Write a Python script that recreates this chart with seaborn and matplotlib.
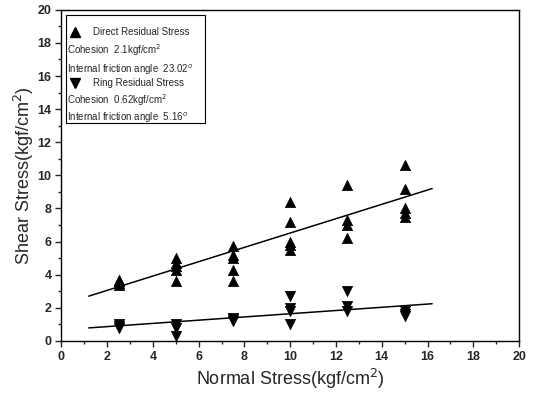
import numpy as np
import pandas as pd
import matplotlib
matplotlib.use("Agg")
import matplotlib.pyplot as plt
import seaborn as sns
from matplotlib.patches import Rectangle
from matplotlib.ticker import MultipleLocator

# Direct residual stress (up triangles)
direct_x = [2.5, 2.5, 2.5, 2.5,
            5, 5, 5, 5, 5,
            7.5, 7.5, 7.5, 7.5, 7.5,
            10, 10, 10, 10, 10,
            12.5, 12.5, 12.5, 12.5,
            15, 15, 15, 15, 15]
direct_y = [3.7, 3.6, 3.5, 3.4,
            5.0, 4.7, 4.5, 4.3, 3.6,
            5.7, 5.2, 5.0, 4.3, 3.6,
            8.4, 7.2, 6.0, 5.8, 5.5,
            9.4, 7.3, 7.0, 6.2,
            10.6, 9.2, 8.0, 7.7, 7.5]

# Ring residual stress (down triangles)
ring_x = [2.5, 2.5, 2.5,
          5, 5, 5,
          7.5, 7.5, 7.5,
          10, 10, 10, 10,
          12.5, 12.5, 12.5,
          15, 15, 15]
ring_y = [1.0, 0.9, 0.8,
          1.0, 0.8, 0.3,
          1.4, 1.3, 1.2,
          2.7, 2.0, 1.8, 1.0,
          3.0, 2.1, 1.8,
          1.8, 1.6, 1.5]

# fitted lines (end points)
fit_x = [1.2, 16.2]
direct_fit = [2.7, 9.2]
ring_fit = [0.78, 2.24]

legend_lines = ["Direct Residual Stress",
                "Cohesion  2.1kgf/cm$^2$",
                "Internal friction angle  23.02$^o$",
                "Ring Residual Stress",
                "Cohesion  0.62kgf/cm$^2$",
                "Internal friction angle  5.16$^o$"]

sns.set_style("ticks")
plt.rcParams['font.family'] = ['Liberation Sans', 'DejaVu Sans']

fig, ax = plt.subplots(figsize=(5.33, 3.94), dpi=100)
fig.subplots_adjust(left=0.115, right=0.974, top=0.975, bottom=0.135)

d1 = pd.DataFrame({"x": direct_x, "y": direct_y})
d2 = pd.DataFrame({"x": ring_x, "y": ring_y})
sns.scatterplot(data=d1, x="x", y="y", marker="^", s=55, color="black",
                edgecolor="black", linewidth=0.5, ax=ax, zorder=3)
sns.scatterplot(data=d2, x="x", y="y", marker="v", s=55, color="black",
                edgecolor="black", linewidth=0.5, ax=ax, zorder=3)
ax.plot(fit_x, direct_fit, color="black", lw=1.1)
ax.plot(fit_x, ring_fit, color="black", lw=1.1)

ax.set_xlim(0, 20)
ax.set_ylim(0, 20)
ax.xaxis.set_major_locator(MultipleLocator(2))
ax.yaxis.set_major_locator(MultipleLocator(2))
ax.xaxis.set_minor_locator(MultipleLocator(1))
ax.yaxis.set_minor_locator(MultipleLocator(1))
ax.tick_params(which="major", length=4, width=1, labelsize=9, pad=3)
ax.tick_params(which="minor", length=2.5, width=1)
for lab in ax.get_xticklabels() + ax.get_yticklabels():
    lab.set_fontweight("bold")
for sp in ax.spines.values():
    sp.set_linewidth(1.0)
    sp.set_color("black")

ax.set_xlabel("Normal Stress(kgf/cm$^2$)", fontsize=13, labelpad=3)
ax.set_ylabel("Shear Stress(kgf/cm$^2$)", fontsize=13, labelpad=1)

# legend box drawn by hand
ax.add_patch(Rectangle((0.011, 0.659), 0.303, 0.326, transform=ax.transAxes,
                       fill=False, edgecolor="black", lw=0.8, zorder=4))
rows = [0.934, 0.879, 0.819, 0.779, 0.728, 0.674]
for i, (txt, ry) in enumerate(zip(legend_lines, rows)):
    if i in (0, 3):
        ax.plot([0.03], [ry], marker="^" if i == 0 else "v", color="black",
                ms=7, transform=ax.transAxes, clip_on=False)
        ax.text(0.07, ry, txt, transform=ax.transAxes, fontsize=7,
                va="center", ha="left")
    else:
        ax.text(0.013, ry, txt, transform=ax.transAxes, fontsize=7,
                va="center", ha="left")

fig.savefig("out.png", dpi=100)
